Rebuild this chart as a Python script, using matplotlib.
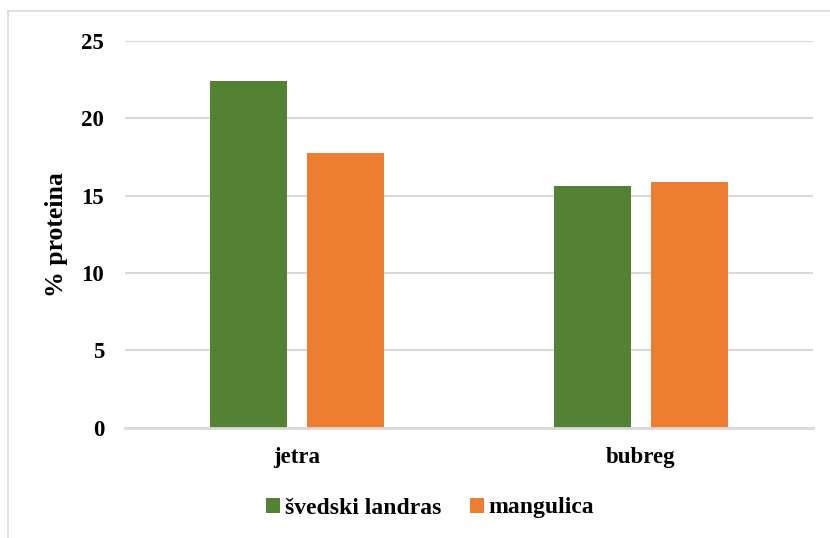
import numpy as np
import matplotlib.pyplot as plt
from matplotlib.lines import Line2D

categories = ['jetra', 'bubreg']
series_names = ['švedski landras', 'mangulica']
svedski = [22.4, 15.6]
mangulica = [17.75, 15.85]
colors = ['#548235', '#ED7D31']
y_ticks = [0, 5, 10, 15, 20, 25]

plt.rcParams['font.family'] = ['Liberation Serif', 'DejaVu Serif']
plt.rcParams['font.weight'] = 'bold'

fig = plt.figure(figsize=(8.3, 5.38), dpi=100)
ax = fig.add_axes([125 / 830, 1 - 427.5 / 538, 688 / 830, (427.5 - 41) / 538])

x = np.arange(len(categories))
w = 0.224
off = 0.142
ax.bar(x - off, svedski, w, color=colors[0], label=series_names[0], zorder=3)
ax.bar(x + off, mangulica, w, color=colors[1], label=series_names[1], zorder=3)

ax.set_xlim(-0.5, 1.5)
ax.set_ylim(0, 25)
ax.set_yticks(y_ticks)
ax.set_xticks(x)
ax.set_xticklabels(categories, fontsize=16.5, fontweight='bold')
ax.set_yticklabels([str(t) for t in y_ticks], fontsize=16.5, fontweight='bold')
ax.tick_params(axis='y', length=0, pad=15)
ax.tick_params(axis='x', length=0, pad=14)

ax.grid(axis='y', color='#d9d9d9', linewidth=1.5, zorder=0)
for s in ['top', 'right', 'left']:
    ax.spines[s].set_visible(False)
ax.spines['bottom'].set_color('#d9d9d9')
ax.spines['bottom'].set_linewidth(2)
ax.spines['bottom'].set_zorder(4)

ax.set_ylabel('% proteina', fontsize=18.5, fontweight='bold')
ax.yaxis.set_label_coords(-0.083, 0.5)

fig.legend(loc='center', bbox_to_anchor=(430 / 830, 1 - 508 / 538), ncol=2,
           frameon=False, prop={'size': 17, 'weight': 'bold'},
           handlelength=0.6, handleheight=0.6, handletextpad=0.2,
           columnspacing=1.2)

# chart area border (right and bottom edges fall outside the image)
fig.add_artist(Line2D([8 / 830, 8 / 830], [0, 1 - 11 / 538],
                      transform=fig.transFigure, color='#d9d9d9', linewidth=1.2))
fig.add_artist(Line2D([8 / 830, 1], [1 - 11 / 538, 1 - 11 / 538],
                      transform=fig.transFigure, color='#d9d9d9', linewidth=1.2))

fig.savefig('out.png', dpi=100)
